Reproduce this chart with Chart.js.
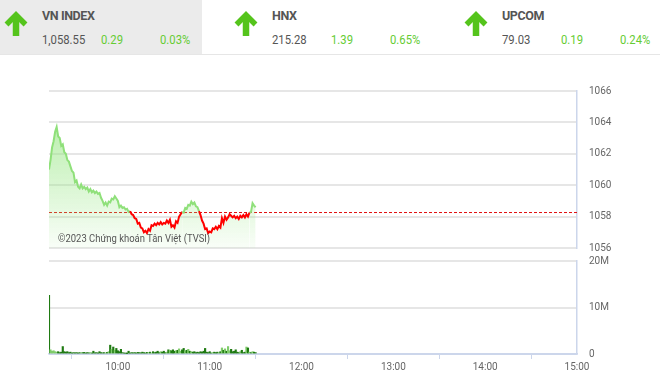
<!DOCTYPE html>
<html>
<head>
<meta charset="utf-8">
<script src="https://cdn.jsdelivr.net/npm/chart.js@4.4.1/dist/chart.umd.min.js"></script>
<style>
  body{margin:0;width:660px;height:381px;background:#fff;font-family:Roboto,"Noto Sans",sans-serif;position:relative;overflow:hidden}
  .hdr{position:absolute;left:0;top:0;width:660px;height:54px;border-bottom:1px solid #e6e6e6}
  .panel{position:absolute;top:0;height:54px;width:202px}
  .panel.on{background:#ebebeb}
  .panel svg{position:absolute;left:3px;top:11px}
  .panel .name{position:absolute;left:42px;top:8px;font-size:12.5px;font-weight:bold;color:#555;letter-spacing:-0.4px}
  .panel .v{position:absolute;top:33px;font-size:12px;color:#555;transform:scaleX(0.94);transform-origin:left}
  .panel .g{color:#66cc33}
  #wm{position:absolute;left:58px;top:232px;font-size:11px;color:#555;transform:scaleX(0.86);transform-origin:left;white-space:nowrap}
  #c1{position:absolute;left:0;top:73px}
  #c2{position:absolute;left:0;top:243px}
</style>
</head>
<body>
<div class="hdr" id="hdr"></div>
<canvas id="c1" width="660" height="193"></canvas>
<canvas id="c2" width="660" height="138"></canvas>
<div id="wm">©2023 Chứng khoán Tân Việt (TVSI)</div>
<script>
// header
const idxNames=['VN INDEX','HNX','UPCOM'];
const idxValues=['1,058.55','215.28','79.03'];
const idxChanges=['0.29','1.39','0.19'];
const idxPercents=['0.03%','0.65%','0.24%'];

// intraday price (one value per minute starting 09:15)
const startTime='09:15';
const refPrice=1058.26;
const priceValues=[1061.0,1061.6,1062.4,1062.8,1063.4,1063.7,1063.1,1063.0,1062.5,1062.6,
 1062.1,1062.0,1061.6,1061.5,1061.2,1060.9,1060.8,1060.2,1060.3,1059.9,
 1059.8,1060.05,1059.8,1059.9,1059.75,1059.85,1059.6,1059.75,1059.55,1059.65,
 1059.5,1059.6,1059.45,1059.5,1059.2,1059.0,1058.75,1058.9,1058.7,1058.95,
 1058.9,1059.15,1059.1,1059.3,1059.15,1059.0,1058.6,1058.7,1058.55,1058.6,
 1058.45,1058.5,1058.3,1058.35,1058.15,1058.1,1057.9,1057.85,1057.55,1057.6,
 1057.3,1057.25,1057.0,1057.1,1056.95,1057.2,1057.1,1057.45,1057.4,1057.55,
 1057.45,1057.6,1057.5,1057.65,1057.5,1057.6,1057.55,1057.75,1057.6,1057.8,
 1057.35,1057.45,1057.3,1057.7,1057.6,1058.0,1058.15,1058.3,1058.25,1058.55,
 1058.5,1058.75,1058.7,1058.95,1058.8,1058.9,1058.65,1058.6,1058.35,1058.1,
 1057.75,1057.55,1057.2,1057.25,1056.95,1057.05,1057.0,1057.25,1057.2,1057.35,
 1057.2,1057.4,1057.3,1057.9,1057.6,1058.0,1057.8,1057.95,1058.15,1058.05,
 1057.95,1058.05,1057.9,1058.0,1057.85,1058.05,1057.95,1058.1,1057.95,1058.15,
 1058.0,1058.25,1058.3,1058.85,1058.7,1058.6];
// volume in millions, per minute
const volumeValues=[12.6,0.9,0.6,0.7,0.5,0.4,0.5,0.3,0.4,1.6,
 0.5,0.4,0.5,0.3,0.4,0.2,0.3,0.25,0.3,0.2,
 0.3,0.25,0.3,0.35,0.2,0.3,0.25,0.3,0.2,0.6,
 0.25,0.3,0.2,0.5,0.3,0.25,0.3,0.2,0.35,0.5,
 1.9,1.0,1.5,0.8,1.2,0.7,0.5,1.0,0.3,0.2,
 0.15,0.1,0.6,0.2,0.3,0.25,0.3,0.2,0.35,0.3,
 0.25,0.4,0.3,0.2,0.35,0.3,0.4,0.2,0.5,0.3,
 0.4,0.6,0.3,0.5,0.4,0.6,0.3,0.4,0.9,0.8,
 0.7,0.9,0.6,0.7,0.8,1.1,0.6,0.9,1.2,0.7,
 0.8,1.0,0.6,0.5,0.4,0.5,0.3,0.4,0.3,0.5,
 0.4,0.6,1.2,0.4,0.3,0.5,0.2,0.3,0.4,0.3,
 0.4,0.3,0.5,1.3,0.8,1.1,0.6,1.6,0.7,1.0,
 0.5,0.6,0.9,0.4,0.3,0.5,0.8,0.3,0.4,1.5,
 1.3,0.4,0.3,0.5,0.4,0.3];
const hourTicks=['10:00','11:00','12:00','13:00','14:00','15:00'];
const priceTicks=[1056,1058,1060,1062,1064,1066];
const volumeTicks=[0,10,20];

const toMin=s=>{const p=s.split(':');return (+p[0])*60+(+p[1]);};
const t0=toMin(startTime), tEnd=toMin('15:00');

// header panels
const hdr=document.getElementById('hdr');
const arrow='<svg width="26" height="26" viewBox="0 0 26 26"><path d="M3.5 13.5 L13 4 L22.5 13.5" fill="none" stroke="#55c41c" stroke-width="5.5"/><path d="M13 6 L13 25" stroke="#55c41c" stroke-width="6.5"/></svg>';
idxNames.forEach((n,i)=>{
  const d=document.createElement('div');
  d.className='panel'+(i===0?' on':'');
  d.style.left=(i*230)+'px';
  d.innerHTML=arrow+'<div class="name">'+n+'</div>'+
    '<div class="v" style="left:42px">'+idxValues[i]+'</div>'+
    '<div class="v g" style="left:101px">'+idxChanges[i]+'</div>'+
    '<div class="v g" style="left:160px">'+idxPercents[i]+'</div>';
  hdr.appendChild(d);
});

Chart.defaults.font.family='Roboto, "Noto Sans", sans-serif';
Chart.defaults.font.size=10;
Chart.defaults.color='#666';
Chart.defaults.animation=false;

const pricePts=priceValues.map((v,i)=>({x:t0+i,y:v}));
const GREEN='#8fe07a', RED='#ff0000';

new Chart(document.getElementById('c1'),{
  type:'line',
  data:{datasets:[
    {data:pricePts,borderWidth:2,pointRadius:0,tension:0,fill:'start',
     borderColor:GREEN,
     segment:{borderColor:c=>((c.p0.parsed.y+c.p1.parsed.y)/2<refPrice?RED:GREEN)},
     backgroundColor:c=>{
       const a=c.chart.chartArea; if(!a) return 'rgba(150,230,130,0.4)';
       const g=c.chart.ctx.createLinearGradient(0,a.top,0,a.bottom);
       g.addColorStop(0,'rgba(150,230,130,0.8)');
       g.addColorStop(1,'rgba(150,230,130,0.06)');
       return g;
     }},
    {data:[{x:t0,y:refPrice},{x:tEnd,y:refPrice}],borderColor:'#e01010',borderWidth:1,borderDash:[3,2],pointRadius:0,fill:false}
  ]},
  options:{
    responsive:false,
    layout:{padding:{left:49,top:10,bottom:8,right:0}},
    plugins:{legend:{display:false},tooltip:{enabled:false}},
    scales:{
      x:{type:'linear',min:t0,max:tEnd,display:false},
      y:{position:'right',min:1056,max:1066,
         afterFit:s=>{s.width=83;},
         afterBuildTicks:s=>{s.ticks=priceTicks.map(v=>({value:v}));},
         ticks:{padding:12,color:'#666',callback:v=>String(v)},
         grid:{color:'#e6e6e6',lineWidth:2,drawTicks:false},
         border:{color:'#ccd6eb',width:1.5}}
    }
  }
});

const volPts=volumeValues.map((v,i)=>({x:t0+i,y:v}));
const volColors=volumeValues.map((v,i)=>(i>0&&priceValues[i]-priceValues[i-1]>0.15)?'#7fcc6a':'#1f7a12');

new Chart(document.getElementById('c2'),{
  type:'bar',
  data:{datasets:[{data:volPts,backgroundColor:volColors,barThickness:1.5,borderWidth:0}]},
  options:{
    responsive:false,
    layout:{padding:{left:49,top:5,bottom:5,right:0}},
    plugins:{legend:{display:false},tooltip:{enabled:false}},
    scales:{
      x:{type:'linear',min:t0,max:tEnd,offset:false,
         afterFit:s=>{s.height=22;},
         afterBuildTicks:s=>{s.ticks=hourTicks.map(h=>({value:toMin(h)}));},
         ticks:{padding:2,maxRotation:0,autoSkip:false,callback:v=>{const h=Math.floor(v/60),m=v%60;return h+':'+(m<10?'0':'')+m;}},
         grid:{drawOnChartArea:false,drawTicks:true,tickLength:5,tickColor:'#ccd6eb'},
         border:{color:'#ccd6eb',width:1.5}},
      y:{position:'right',min:0,max:20,
         afterFit:s=>{s.width=83;},
         afterBuildTicks:s=>{s.ticks=volumeTicks.map(v=>({value:v}));},
         ticks:{padding:12,callback:v=>v===0?'0':v+'M'},
         grid:{color:c=>c.tick&&c.tick.value===0?'#ccd6eb':'#e6e6e6',lineWidth:2,drawTicks:false},
         border:{color:'#ccd6eb',width:1.5}}
    }
  }
});
</script>
</body>
</html>
